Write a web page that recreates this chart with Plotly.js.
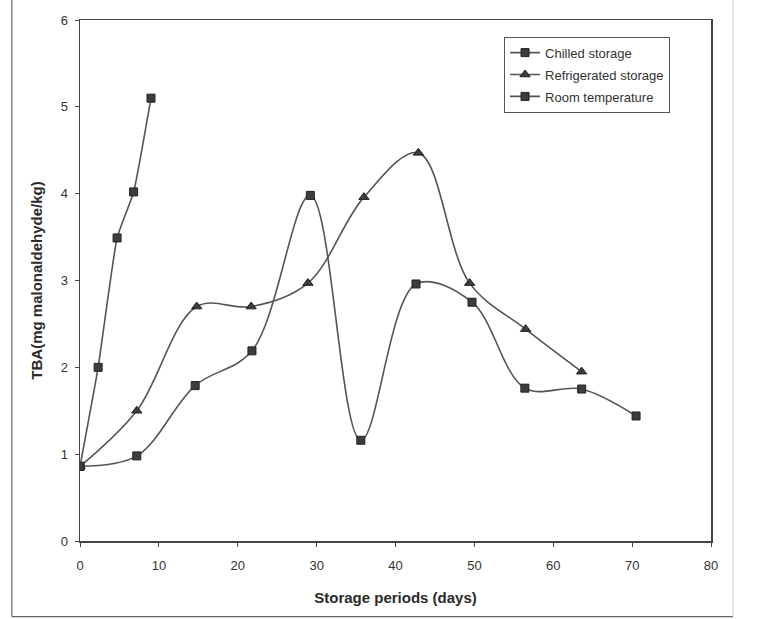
<!DOCTYPE html>
<html>
<head>
<meta charset="utf-8">
<script src="https://cdn.plot.ly/plotly-3.0.1.min.js"></script>
<style>html,body{margin:0;padding:0;background:#fff;}#chart{width:764px;height:619px;}</style>
</head>
<body>
<div id="chart"></div>
<script>
// Storage days and TBA values
const chilledDays = [0, 7.2, 14.6, 21.8, 29.2, 35.6, 42.6, 49.7, 56.4, 63.6, 70.5];
const chilledTBA  = [0.86, 0.98, 1.79, 2.19, 3.98, 1.16, 2.96, 2.75, 1.76, 1.75, 1.44];

const refrigDays = [0, 7.2, 14.8, 21.7, 28.9, 36.0, 42.9, 49.4, 56.5, 63.6];
const refrigTBA  = [0.86, 1.50, 2.70, 2.70, 2.97, 3.96, 4.47, 2.97, 2.44, 1.95];

const roomDays = [0, 2.3, 4.7, 6.8, 9.0];
const roomTBA  = [0.86, 2.00, 3.49, 4.02, 5.10];

const xTicks = [0, 10, 20, 30, 40, 50, 60, 70, 80];
const yTicks = [0, 1, 2, 3, 4, 5, 6];

const lineColor = '#555555';
const markColor = '#3d3d3d';

const traces = [
  {
    x: chilledDays, y: chilledTBA, name: 'Chilled storage', type: 'scatter', mode: 'lines+markers',
    legendgroup: 'a',
    line: {color: lineColor, width: 1.6, shape: 'spline', smoothing: 1},
    marker: {symbol: 'square', size: 8, color: markColor, line: {color: '#222', width: 1}}
  },
  {
    x: refrigDays, y: refrigTBA, name: 'Refrigerated storage', type: 'scatter', mode: 'lines+markers',
    legendgroup: 'b',
    line: {color: lineColor, width: 1.6, shape: 'spline', smoothing: 1},
    marker: {symbol: 'triangle-up', size: 9, color: markColor, line: {color: '#222', width: 1}}
  },
  {
    x: roomDays, y: roomTBA, name: 'Room temperature', type: 'scatter', mode: 'lines+markers',
    legendgroup: 'c',
    line: {color: lineColor, width: 1.6, shape: 'spline', smoothing: 0.4},
    marker: {symbol: 'square', size: 8, color: markColor, line: {color: '#222', width: 1}}
  }
];

const layout = {
  width: 764, height: 619,
  margin: {l: 80, r: 53, t: 20, b: 78},
  paper_bgcolor: '#ffffff', plot_bgcolor: '#ffffff',
  font: {family: 'Liberation Sans, Arial, sans-serif', color: '#333333', size: 12},
  showlegend: true,
  legend: {
    x: 0.672, y: 0.968, xanchor: 'left', yanchor: 'top',
    bgcolor: '#ffffff', bordercolor: '#555555', borderwidth: 1,
    font: {size: 13, color: '#333333'},
    traceorder: 'grouped',
    tracegroupgap: 2
  },
  xaxis: {
    range: [0, 80], tickvals: xTicks, ticktext: xTicks.map(String),
    showgrid: false, zeroline: false,
    showline: true, linecolor: '#444444', linewidth: 1.5, mirror: true,
    ticks: 'outside', ticklen: 4, tickcolor: '#444444',
    ticklabelstandoff: 8,
    tickfont: {size: 13, color: '#333333'},
    title: {text: 'Storage periods (days)', font: {size: 15, color: '#2a2a2a', weight: 'bold'}, standoff: 20}
  },
  yaxis: {
    range: [0, 6], tickvals: yTicks, ticktext: yTicks.map(String),
    showgrid: false, zeroline: false,
    showline: true, linecolor: '#444444', linewidth: 1.5, mirror: true,
    ticks: 'outside', ticklen: 4, tickcolor: '#444444',
    ticklabelstandoff: 4,
    tickfont: {size: 13, color: '#333333'},
    title: {text: 'TBA(mg malonaldehyde/kg)', font: {size: 15, color: '#2a2a2a', weight: 'bold'}, standoff: 14}
  },
  shapes: [
    {type: 'line', xref: 'paper', yref: 'paper', x0: -0.108, x1: -0.108, y0: -0.145, y1: 1.04, line: {color: '#666', width: 1.2}},
    {type: 'line', xref: 'paper', yref: 'paper', x0: -0.108, x1: 1.035, y0: -0.145, y1: -0.145, line: {color: '#666', width: 1.2}},
    {type: 'line', xref: 'paper', yref: 'paper', x0: 1.035, x1: 1.035, y0: -0.145, y1: 1.04, line: {color: '#cccccc', width: 1}}
  ]
};

Plotly.newPlot('chart', traces, layout, {displayModeBar: false, staticPlot: true});
</script>
</body>
</html>
